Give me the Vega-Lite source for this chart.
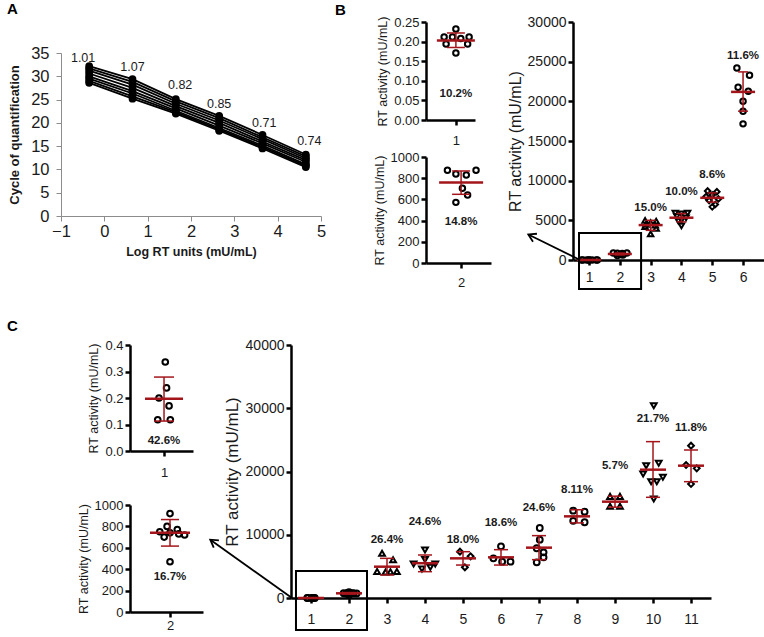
{
  "$schema": "https://vega.github.io/schema/vega-lite/v6.json",
  "padding": {"left": 7, "top": 2, "right": 0, "bottom": 0},
  "config": {
    "font": "Liberation Sans",
    "view": {"stroke": null},
    "axis": {"grid": false, "domainColor": "black", "domainWidth": 2.5, "tickColor": "black", "tickWidth": 2.5, "tickSize": 5, "labelColor": "#1a1a1a", "labelFontSize": 13, "labelPadding": 2, "titleFontWeight": "normal", "titleColor": "#1a1a1a", "titleFontSize": 12.5, "labelFlush": false, "labelOverlap": false, "tickCount": 50},
    "title": {"fontSize": 15, "fontWeight": "bold", "anchor": "start", "color": "black"}
  },
  "datasets": {
    "std": [
      {"rep":1,"logRT":-0.35,"cq":32.2},{"rep":1,"logRT":0.65,"cq":29.4},{"rep":1,"logRT":1.65,"cq":25.1},{"rep":1,"logRT":2.65,"cq":21.5},{"rep":1,"logRT":3.65,"cq":17.4},{"rep":1,"logRT":4.65,"cq":13.2},
      {"rep":2,"logRT":-0.35,"cq":31.7},{"rep":2,"logRT":0.65,"cq":28.8},{"rep":2,"logRT":1.65,"cq":24.6},{"rep":2,"logRT":2.65,"cq":21.0},{"rep":2,"logRT":3.65,"cq":16.9},{"rep":2,"logRT":4.65,"cq":12.8},
      {"rep":3,"logRT":-0.35,"cq":31.2},{"rep":3,"logRT":0.65,"cq":28.2},{"rep":3,"logRT":1.65,"cq":24.1},{"rep":3,"logRT":2.65,"cq":20.5},{"rep":3,"logRT":3.65,"cq":16.5},{"rep":3,"logRT":4.65,"cq":12.4},
      {"rep":4,"logRT":-0.35,"cq":30.6},{"rep":4,"logRT":0.65,"cq":27.5},{"rep":4,"logRT":1.65,"cq":23.6},{"rep":4,"logRT":2.65,"cq":20.0},{"rep":4,"logRT":3.65,"cq":16.0},{"rep":4,"logRT":4.65,"cq":12.0},
      {"rep":5,"logRT":-0.35,"cq":30.0},{"rep":5,"logRT":0.65,"cq":26.8},{"rep":5,"logRT":1.65,"cq":23.1},{"rep":5,"logRT":2.65,"cq":19.4},{"rep":5,"logRT":3.65,"cq":15.6},{"rep":5,"logRT":4.65,"cq":11.6},
      {"rep":6,"logRT":-0.35,"cq":29.5},{"rep":6,"logRT":0.65,"cq":26.3},{"rep":6,"logRT":1.65,"cq":22.6},{"rep":6,"logRT":2.65,"cq":18.9},{"rep":6,"logRT":3.65,"cq":15.1},{"rep":6,"logRT":4.65,"cq":11.1},
      {"rep":7,"logRT":-0.35,"cq":29.0},{"rep":7,"logRT":0.65,"cq":25.7},{"rep":7,"logRT":1.65,"cq":22.3},{"rep":7,"logRT":2.65,"cq":18.6},{"rep":7,"logRT":3.65,"cq":14.8},{"rep":7,"logRT":4.65,"cq":10.8},
      {"rep":8,"logRT":-0.35,"cq":28.6},{"rep":8,"logRT":0.65,"cq":25.2},{"rep":8,"logRT":1.65,"cq":22.0},{"rep":8,"logRT":2.65,"cq":18.3},{"rep":8,"logRT":3.65,"cq":14.5},{"rep":8,"logRT":4.65,"cq":10.5}
    ],
    "stdLabel": [
      {"logRT":-0.49,"cq":34.0,"eff":"1.01"},{"logRT":0.65,"cq":32.1,"eff":"1.07"},{"logRT":1.75,"cq":28.1,"eff":"0.82"},
      {"logRT":2.65,"cq":24.0,"eff":"0.85"},{"logRT":3.69,"cq":20.0,"eff":"0.71"},{"logRT":4.73,"cq":16.0,"eff":"0.74"}
    ],
    "bPts": [
      {"group":1,"pos":1.0,"rt":0.232},{"group":1,"pos":0.76,"rt":0.212},{"group":1,"pos":0.93,"rt":0.212},{"group":1,"pos":1.10,"rt":0.208},{"group":1,"pos":1.27,"rt":0.212},{"group":1,"pos":0.80,"rt":0.194},{"group":1,"pos":1.24,"rt":0.194},{"group":1,"pos":1.0,"rt":0.171},
      {"group":2,"pos":1.79,"rt":875},{"group":2,"pos":1.92,"rt":840},{"group":2,"pos":2.08,"rt":830},{"group":2,"pos":2.23,"rt":875},{"group":2,"pos":2.02,"rt":705},{"group":2,"pos":2.10,"rt":641},{"group":2,"pos":1.92,"rt":572},
      {"group":3,"pos":2.82,"rt":5000},{"group":3,"pos":3.18,"rt":4900},{"group":3,"pos":3.0,"rt":4700},{"group":3,"pos":2.85,"rt":4500},{"group":3,"pos":3.15,"rt":4400},{"group":3,"pos":2.82,"rt":4200},{"group":3,"pos":3.18,"rt":4000},{"group":3,"pos":3.0,"rt":3300},
      {"group":4,"pos":3.8,"rt":5900},{"group":4,"pos":4.2,"rt":5900},{"group":4,"pos":4.0,"rt":5800},{"group":4,"pos":3.85,"rt":5500},{"group":4,"pos":4.15,"rt":5300},{"group":4,"pos":4.0,"rt":5000},{"group":4,"pos":3.9,"rt":4900},{"group":4,"pos":4.0,"rt":4300},
      {"group":5,"pos":4.85,"rt":8700},{"group":5,"pos":5.15,"rt":8600},{"group":5,"pos":5.0,"rt":8200},{"group":5,"pos":4.8,"rt":8000},{"group":5,"pos":5.2,"rt":7700},{"group":5,"pos":4.9,"rt":7500},{"group":5,"pos":5.1,"rt":7000},{"group":5,"pos":5.0,"rt":6700},
      {"group":6,"pos":5.8,"rt":24210},{"group":6,"pos":6.21,"rt":23290},{"group":6,"pos":5.84,"rt":21780},{"group":6,"pos":6.17,"rt":21280},{"group":6,"pos":6.0,"rt":20020},{"group":6,"pos":6.0,"rt":18760},{"group":6,"pos":6.0,"rt":17160}
    ],
    "bStats": [
      {"group":1,"mean":0.203,"lo":0.185,"hi":0.222},
      {"group":2,"mean":760,"lo":648,"hi":868},
      {"group":3,"mean":4400,"lo":3740,"hi":5000},
      {"group":4,"mean":5330,"lo":4800,"hi":5860},
      {"group":5,"mean":7840,"lo":7290,"hi":8460},
      {"group":6,"mean":21190,"lo":18760,"hi":23710}
    ],
    "bLabels": [
      {"panel":"s","group":1,"rt":0.066,"text":"10.2%"},
      {"panel":"s","group":2,"rt":387,"text":"14.8%"},
      {"panel":"b","group":3,"rt":6510,"text":"15.0%"},
      {"panel":"b","group":4,"rt":8600,"text":"10.0%"},
      {"panel":"b","group":5,"rt":10660,"text":"8.6%"},
      {"panel":"b","group":6,"rt":25680,"text":"11.6%"}
    ],
    "bNote": [{"x1":0.675,"x2":2.69,"y1":3400,"y2":-3650,"ax1":0.71,"ay1":0,"ax2":-0.97,"ay2":3220}],
    "cPts": [
      {"group":1,"pos":1.02,"rt":0.336},{"group":1,"pos":1.04,"rt":0.238},{"group":1,"pos":0.92,"rt":0.20},{"group":1,"pos":1.08,"rt":0.17},{"group":1,"pos":0.9,"rt":0.118},{"group":1,"pos":1.1,"rt":0.118},
      {"group":2,"pos":2.0,"rt":920},{"group":2,"pos":1.96,"rt":800},{"group":2,"pos":2.1,"rt":770},{"group":2,"pos":1.86,"rt":750},{"group":2,"pos":2.0,"rt":740},{"group":2,"pos":2.12,"rt":730},{"group":2,"pos":2.2,"rt":720},{"group":2,"pos":1.92,"rt":700},{"group":2,"pos":2.0,"rt":470},
      {"group":3,"pos":2.87,"rt":7060},{"group":3,"pos":3.16,"rt":6060},{"group":3,"pos":2.74,"rt":4200},{"group":3,"pos":2.96,"rt":4100},{"group":3,"pos":3.09,"rt":4150},{"group":3,"pos":3.26,"rt":4200},
      {"group":4,"pos":4.0,"rt":7600},{"group":4,"pos":4.0,"rt":6100},{"group":4,"pos":3.7,"rt":5380},{"group":4,"pos":3.92,"rt":4590},{"group":4,"pos":4.14,"rt":4850},{"group":4,"pos":4.27,"rt":5380},
      {"group":5,"pos":4.92,"rt":7320},{"group":5,"pos":5.2,"rt":6590},{"group":5,"pos":5.05,"rt":4850},
      {"group":6,"pos":6.0,"rt":8170},{"group":6,"pos":5.8,"rt":6270},{"group":6,"pos":6.03,"rt":5740},{"group":6,"pos":6.25,"rt":5740},
      {"group":7,"pos":7.02,"rt":11070},{"group":7,"pos":7.02,"rt":9220},{"group":7,"pos":6.94,"rt":7860},{"group":7,"pos":7.12,"rt":7220},{"group":7,"pos":7.12,"rt":6430},{"group":7,"pos":6.94,"rt":5640},
      {"group":8,"pos":7.9,"rt":13810},{"group":8,"pos":8.2,"rt":13650},{"group":8,"pos":7.9,"rt":12200},{"group":8,"pos":8.2,"rt":11970},
      {"group":9,"pos":8.87,"rt":16070},{"group":9,"pos":9.13,"rt":16070},{"group":9,"pos":8.87,"rt":14500},{"group":9,"pos":9.13,"rt":14500},
      {"group":10,"pos":10.02,"rt":30400},{"group":10,"pos":10.15,"rt":21300},{"group":10,"pos":9.82,"rt":20920},{"group":10,"pos":9.74,"rt":19600},{"group":10,"pos":10.26,"rt":19080},{"group":10,"pos":9.95,"rt":18390},{"group":10,"pos":10.1,"rt":18390},{"group":10,"pos":10.02,"rt":15650},
      {"group":11,"pos":11.0,"rt":24080},{"group":11,"pos":10.87,"rt":21030},{"group":11,"pos":11.15,"rt":20500},{"group":11,"pos":11.0,"rt":18020}
    ],
    "cStats": [
      {"group":1,"mean":0.197,"lo":0.113,"hi":0.279},
      {"group":2,"mean":740,"lo":616,"hi":864},
      {"group":3,"mean":4950,"lo":3640,"hi":6270},
      {"group":4,"mean":5500,"lo":4160,"hi":6800},
      {"group":5,"mean":6270,"lo":5210,"hi":7320},
      {"group":6,"mean":6430,"lo":5210,"hi":7640},
      {"group":7,"mean":7960,"lo":6060,"hi":9860},
      {"group":8,"mean":12910,"lo":11870,"hi":13950},
      {"group":9,"mean":15230,"lo":14360,"hi":16100},
      {"group":10,"mean":20290,"lo":15920,"hi":24720},
      {"group":11,"mean":20920,"lo":18390,"hi":23400}
    ],
    "cLabels": [
      {"panel":"s","group":1,"rt":0.036,"text":"42.6%"},
      {"panel":"s","group":2,"rt":330,"text":"16.7%"},
      {"panel":"b","group":3,"rt":9220,"text":"26.4%"},
      {"panel":"b","group":4,"rt":12070,"text":"24.6%"},
      {"panel":"b","group":5,"rt":9220,"text":"18.0%"},
      {"panel":"b","group":6,"rt":11860,"text":"18.6%"},
      {"panel":"b","group":7,"rt":14230,"text":"24.6%"},
      {"panel":"b","group":8,"rt":17070,"text":"8.11%"},
      {"panel":"b","group":9,"rt":20920,"text":"5.7%"},
      {"panel":"b","group":10,"rt":28300,"text":"21.7%"},
      {"panel":"b","group":11,"rt":26880,"text":"11.8%"}
    ],
    "cNote": [{"x1":0.605,"x2":2.474,"y1":4270,"y2":-5060,"ax1":0.50,"ay1":0,"ax2":-1.65,"ay2":9220}]
  },
  "spacing": 29,
  "vconcat": [
    {
      "spacing": 9,
      "hconcat": [
        {
          "spacing": 10,
          "bounds": "flush",
          "vconcat": [
            {"width": 260, "height": 21, "title": {"text": "A", "dx": -54, "offset": 5}, "data": {"values": []}, "mark": "point", "encoding": {}},
            {
              "width": 260, "height": 163,
              "layer": [
                {"data": {"name": "std"}, "mark": {"type": "line", "color": "black", "strokeWidth": 1.8},
                 "encoding": {
                   "x": {"field": "logRT", "type": "quantitative", "scale": {"domain": [-1, 5], "nice": false, "zero": false},
                         "axis": {"title": "Log RT units (mU/mL)", "values": [-1,0,1,2,3,4,5], "format": "d", "tickCount": 50, "labelOverlap": false, "domainColor": "#8c8c8c", "domainWidth": 1, "tickColor": "#8c8c8c", "tickWidth": 1, "tickSize": 5, "labelFontSize": 16.5, "labelPadding": 2, "titleFontSize": 12.5, "titleFontWeight": "bold", "titlePadding": 6}},
                   "y": {"field": "cq", "type": "quantitative", "scale": {"domain": [0, 35], "nice": false},
                         "axis": {"title": "Cycle of quantification", "values": [0,5,10,15,20,25,30,35], "format": "d", "tickCount": 50, "labelOverlap": false, "domainColor": "#8c8c8c", "domainWidth": 1, "tickColor": "#8c8c8c", "tickWidth": 1, "tickSize": 5, "labelFontSize": 16.5, "labelPadding": 7, "titleFontSize": 13, "titleFontWeight": "bold", "titlePadding": 9}},
                   "detail": {"field": "rep", "type": "nominal"}
                 }},
                {"data": {"name": "std"}, "mark": {"type": "point", "filled": true, "color": "black", "size": 60, "opacity": 1},
                 "encoding": {"x": {"field": "logRT", "type": "quantitative"}, "y": {"field": "cq", "type": "quantitative"}}},
                {"data": {"name": "stdLabel"}, "mark": {"type": "text", "fontSize": 12.5, "color": "#1a1a1a"},
                 "encoding": {"x": {"field": "logRT", "type": "quantitative"}, "y": {"field": "cq", "type": "quantitative"}, "text": {"field": "eff"}}}
              ]
            }
          ]
        },
        {
          "spacing": 16,
          "hconcat": [
            {
              "title": {"text": "B", "dx": -38, "offset": -2},
              "spacing": 37,
              "bounds": "flush",
              "vconcat": [
                {
                  "width": 49, "height": 98,
                  "layer": [
                    {"data": {"name": "bPts"}, "transform": [{"filter": "datum.group == 1"}],
                     "mark": {"type": "point", "shape": "circle", "filled": false, "color": "black", "strokeWidth": 2, "size": 30, "opacity": 1},
                     "encoding": {
                       "x": {"field": "pos", "type": "quantitative", "scale": {"domain": [0.39, 1.39], "nice": false, "zero": false}, "axis": {"title": null, "values": [1], "tickCount": 50, "format": "d", "labelOverlap": false, "labelPadding": 9}},
                       "y": {"field": "rt", "type": "quantitative", "scale": {"domain": [0, 0.25], "nice": false}, "axis": {"title": "RT activity (mU/mL)", "values": [0,0.05,0.1,0.15,0.2,0.25], "tickCount": 50, "format": ".2f", "labelOverlap": false}}
                     }},
                    {"data": {"name": "bStats"}, "transform": [{"filter": "datum.group == 1"}], "mark": {"type": "rule", "color": "#a3151b", "strokeWidth": 1.5},
                     "encoding": {"x": {"field": "group", "type": "quantitative"}, "y": {"field": "lo", "type": "quantitative"}, "y2": {"field": "hi"}}},
                    {"data": {"name": "bStats"}, "transform": [{"filter": "datum.group == 1"}], "mark": {"type": "tick", "orient": "horizontal", "color": "#a3151b", "size": 18, "thickness": 1.5, "opacity": 1},
                     "encoding": {"x": {"field": "group", "type": "quantitative"}, "y": {"field": "lo", "type": "quantitative"}}},
                    {"data": {"name": "bStats"}, "transform": [{"filter": "datum.group == 1"}], "mark": {"type": "tick", "orient": "horizontal", "color": "#a3151b", "size": 18, "thickness": 1.5, "opacity": 1},
                     "encoding": {"x": {"field": "group", "type": "quantitative"}, "y": {"field": "hi", "type": "quantitative"}}},
                    {"data": {"name": "bStats"}, "transform": [{"filter": "datum.group == 1"}], "mark": {"type": "tick", "orient": "horizontal", "color": "#a3151b", "size": 38, "thickness": 2.5, "opacity": 1},
                     "encoding": {"x": {"field": "group", "type": "quantitative"}, "y": {"field": "mean", "type": "quantitative"}}},
                    {"data": {"name": "bLabels"}, "transform": [{"filter": "datum.panel == 's' && datum.group == 1"}], "mark": {"type": "text", "fontSize": 11.5, "fontWeight": "bold", "color": "#1a1a1a"},
                     "encoding": {"x": {"field": "group", "type": "quantitative"}, "y": {"field": "rt", "type": "quantitative"}, "text": {"field": "text"}}}
                  ]
                },
                {
                  "width": 65, "height": 106,
                  "layer": [
                    {"data": {"name": "bPts"}, "transform": [{"filter": "datum.group == 2"}],
                     "mark": {"type": "point", "shape": "circle", "filled": false, "color": "black", "strokeWidth": 2, "size": 30, "opacity": 1},
                     "encoding": {
                       "x": {"field": "pos", "type": "quantitative", "scale": {"domain": [1.46, 2.46], "nice": false, "zero": false}, "axis": {"title": null, "values": [2], "tickCount": 50, "format": "d", "labelOverlap": false, "labelPadding": 8}},
                       "y": {"field": "rt", "type": "quantitative", "scale": {"domain": [0, 1000], "nice": false}, "axis": {"title": "RT activity (mU/mL)", "values": [0,200,400,600,800,1000], "tickCount": 50, "format": "d", "labelOverlap": false}}
                     }},
                    {"data": {"name": "bStats"}, "transform": [{"filter": "datum.group == 2"}], "mark": {"type": "rule", "color": "#a3151b", "strokeWidth": 1.5},
                     "encoding": {"x": {"field": "group", "type": "quantitative"}, "y": {"field": "lo", "type": "quantitative"}, "y2": {"field": "hi"}}},
                    {"data": {"name": "bStats"}, "transform": [{"filter": "datum.group == 2"}], "mark": {"type": "tick", "orient": "horizontal", "color": "#a3151b", "size": 18, "thickness": 1.5, "opacity": 1},
                     "encoding": {"x": {"field": "group", "type": "quantitative"}, "y": {"field": "lo", "type": "quantitative"}}},
                    {"data": {"name": "bStats"}, "transform": [{"filter": "datum.group == 2"}], "mark": {"type": "tick", "orient": "horizontal", "color": "#a3151b", "size": 18, "thickness": 1.5, "opacity": 1},
                     "encoding": {"x": {"field": "group", "type": "quantitative"}, "y": {"field": "hi", "type": "quantitative"}}},
                    {"data": {"name": "bStats"}, "transform": [{"filter": "datum.group == 2"}], "mark": {"type": "tick", "orient": "horizontal", "color": "#a3151b", "size": 44, "thickness": 2.5, "opacity": 1},
                     "encoding": {"x": {"field": "group", "type": "quantitative"}, "y": {"field": "mean", "type": "quantitative"}}},
                    {"data": {"name": "bLabels"}, "transform": [{"filter": "datum.panel == 's' && datum.group == 2"}], "mark": {"type": "text", "fontSize": 11.5, "fontWeight": "bold", "color": "#1a1a1a"},
                     "encoding": {"x": {"field": "group", "type": "quantitative"}, "y": {"field": "rt", "type": "quantitative"}, "text": {"field": "text"}}}
                  ]
                }
              ]
            },
            {
              "width": 191, "height": 238,
              "layer": [
                {"data": {"name": "bPts"},
                 "mark": {"type": "point", "filled": false, "color": "black", "strokeWidth": 2, "size": 30, "opacity": 1},
                 "encoding": {
                   "x": {"field": "pos", "type": "quantitative", "scale": {"domain": [0.48, 6.68], "nice": false, "zero": false}, "axis": {"title": null, "values": [1,2,3,4,5,6], "tickCount": 50, "format": "d", "labelOverlap": false, "labelFontSize": 14, "labelPadding": 5}},
                   "y": {"field": "rt", "type": "quantitative", "scale": {"domain": [0, 30000], "nice": false}, "axis": {"title": "RT activity (mU/mL)", "values": [0,5000,10000,15000,20000,25000,30000], "tickCount": 50, "format": "d", "labelOverlap": false, "labelFontSize": 14, "titleFontSize": 16}},
                   "shape": {"field": "group", "type": "nominal", "scale": {"domain": [1,2,3,4,5,6], "range": ["circle","circle","triangle-up","triangle-down","diamond","circle"]}, "legend": null}
                 }},
                {"data": {"name": "bStats"}, "mark": {"type": "rule", "color": "#a3151b", "strokeWidth": 1.5},
                 "encoding": {"x": {"field": "group", "type": "quantitative"}, "y": {"field": "lo", "type": "quantitative"}, "y2": {"field": "hi"}}},
                {"data": {"name": "bStats"}, "mark": {"type": "tick", "orient": "horizontal", "color": "#a3151b", "size": 10, "thickness": 1.5, "opacity": 1},
                 "encoding": {"x": {"field": "group", "type": "quantitative"}, "y": {"field": "lo", "type": "quantitative"}}},
                {"data": {"name": "bStats"}, "mark": {"type": "tick", "orient": "horizontal", "color": "#a3151b", "size": 10, "thickness": 1.5, "opacity": 1},
                 "encoding": {"x": {"field": "group", "type": "quantitative"}, "y": {"field": "hi", "type": "quantitative"}}},
                {"data": {"name": "bStats"}, "mark": {"type": "tick", "orient": "horizontal", "color": "#a3151b", "size": 24, "thickness": 2.5, "opacity": 1},
                 "encoding": {"x": {"field": "group", "type": "quantitative"}, "y": {"field": "mean", "type": "quantitative"}}},
                {"data": {"name": "bLabels"}, "transform": [{"filter": "datum.panel == 'b'"}], "mark": {"type": "text", "fontSize": 11.5, "fontWeight": "bold", "color": "#1a1a1a"},
                 "encoding": {"x": {"field": "group", "type": "quantitative"}, "y": {"field": "rt", "type": "quantitative"}, "text": {"field": "text"}}},
                {"data": {"name": "bNote"}, "mark": {"type": "rect", "filled": false, "color": "black", "strokeWidth": 2},
                 "encoding": {"x": {"field": "x1", "type": "quantitative"}, "x2": {"field": "x2"}, "y": {"field": "y1", "type": "quantitative"}, "y2": {"field": "y2"}}},
                {"data": {"name": "bNote"}, "mark": {"type": "rule", "color": "black", "strokeWidth": 1.8},
                 "encoding": {"x": {"field": "ax1", "type": "quantitative"}, "y": {"field": "ay1", "type": "quantitative"}, "x2": {"field": "ax2"}, "y2": {"field": "ay2"}}},
                {"data": {"name": "bNote"}, "mark": {"type": "point", "shape": "M-0.6,1L0,0L0.6,1", "angle": -63.6, "size": 220, "filled": false, "color": "black", "strokeWidth": 1.8, "opacity": 1},
                 "encoding": {"x": {"field": "ax2", "type": "quantitative"}, "y": {"field": "ay2", "type": "quantitative"}}}
              ]
            }
          ]
        }
      ]
    },
    {
      "spacing": 6,
      "hconcat": [
        {"width": 10, "height": 10, "title": {"text": "C", "dx": -54, "offset": 11}, "data": {"values": []}, "mark": "point", "encoding": {}},
        {
          "spacing": 3,
          "hconcat": [
            {
              "spacing": 54,
              "bounds": "flush",
              "vconcat": [
                {
                  "width": 63, "height": 106,
                  "layer": [
                    {"data": {"name": "cPts"}, "transform": [{"filter": "datum.group == 1"}],
                     "mark": {"type": "point", "shape": "circle", "filled": false, "color": "black", "strokeWidth": 2, "size": 32, "opacity": 1},
                     "encoding": {
                       "x": {"field": "pos", "type": "quantitative", "scale": {"domain": [0.46, 1.46], "nice": false, "zero": false}, "axis": {"title": null, "values": [1], "tickCount": 50, "format": "d", "labelOverlap": false, "labelPadding": 10}},
                       "y": {"field": "rt", "type": "quantitative", "scale": {"domain": [0, 0.4], "nice": false}, "axis": {"title": "RT activity (mU/mL)", "values": [0,0.1,0.2,0.3,0.4], "tickCount": 50, "format": ".1f", "labelOverlap": false}}
                     }},
                    {"data": {"name": "cStats"}, "transform": [{"filter": "datum.group == 1"}], "mark": {"type": "rule", "color": "#a3151b", "strokeWidth": 1.5},
                     "encoding": {"x": {"field": "group", "type": "quantitative"}, "y": {"field": "lo", "type": "quantitative"}, "y2": {"field": "hi"}}},
                    {"data": {"name": "cStats"}, "transform": [{"filter": "datum.group == 1"}], "mark": {"type": "tick", "orient": "horizontal", "color": "#a3151b", "size": 20, "thickness": 1.5, "opacity": 1},
                     "encoding": {"x": {"field": "group", "type": "quantitative"}, "y": {"field": "lo", "type": "quantitative"}}},
                    {"data": {"name": "cStats"}, "transform": [{"filter": "datum.group == 1"}], "mark": {"type": "tick", "orient": "horizontal", "color": "#a3151b", "size": 20, "thickness": 1.5, "opacity": 1},
                     "encoding": {"x": {"field": "group", "type": "quantitative"}, "y": {"field": "hi", "type": "quantitative"}}},
                    {"data": {"name": "cStats"}, "transform": [{"filter": "datum.group == 1"}], "mark": {"type": "tick", "orient": "horizontal", "color": "#a3151b", "size": 38, "thickness": 2.5, "opacity": 1},
                     "encoding": {"x": {"field": "group", "type": "quantitative"}, "y": {"field": "mean", "type": "quantitative"}}},
                    {"data": {"name": "cLabels"}, "transform": [{"filter": "datum.panel == 's' && datum.group == 1"}], "mark": {"type": "text", "fontSize": 11.5, "fontWeight": "bold", "color": "#1a1a1a"},
                     "encoding": {"x": {"field": "group", "type": "quantitative"}, "y": {"field": "rt", "type": "quantitative"}, "text": {"field": "text"}}}
                  ]
                },
                {
                  "width": 73, "height": 107,
                  "layer": [
                    {"data": {"name": "cPts"}, "transform": [{"filter": "datum.group == 2"}],
                     "mark": {"type": "point", "shape": "circle", "filled": false, "color": "black", "strokeWidth": 2, "size": 32, "opacity": 1},
                     "encoding": {
                       "x": {"field": "pos", "type": "quantitative", "scale": {"domain": [1.452, 2.452], "nice": false, "zero": false}, "axis": {"title": null, "values": [2], "tickCount": 50, "format": "d", "labelOverlap": false, "labelPadding": 2}},
                       "y": {"field": "rt", "type": "quantitative", "scale": {"domain": [0, 1000], "nice": false}, "axis": {"title": "RT activity (mU/mL)", "values": [0,200,400,600,800,1000], "tickCount": 50, "format": "d", "labelOverlap": false}}
                     }},
                    {"data": {"name": "cStats"}, "transform": [{"filter": "datum.group == 2"}], "mark": {"type": "rule", "color": "#a3151b", "strokeWidth": 1.5},
                     "encoding": {"x": {"field": "group", "type": "quantitative"}, "y": {"field": "lo", "type": "quantitative"}, "y2": {"field": "hi"}}},
                    {"data": {"name": "cStats"}, "transform": [{"filter": "datum.group == 2"}], "mark": {"type": "tick", "orient": "horizontal", "color": "#a3151b", "size": 18, "thickness": 1.5, "opacity": 1},
                     "encoding": {"x": {"field": "group", "type": "quantitative"}, "y": {"field": "lo", "type": "quantitative"}}},
                    {"data": {"name": "cStats"}, "transform": [{"filter": "datum.group == 2"}], "mark": {"type": "tick", "orient": "horizontal", "color": "#a3151b", "size": 18, "thickness": 1.5, "opacity": 1},
                     "encoding": {"x": {"field": "group", "type": "quantitative"}, "y": {"field": "hi", "type": "quantitative"}}},
                    {"data": {"name": "cStats"}, "transform": [{"filter": "datum.group == 2"}], "mark": {"type": "tick", "orient": "horizontal", "color": "#a3151b", "size": 40, "thickness": 2.5, "opacity": 1},
                     "encoding": {"x": {"field": "group", "type": "quantitative"}, "y": {"field": "mean", "type": "quantitative"}}},
                    {"data": {"name": "cLabels"}, "transform": [{"filter": "datum.panel == 's' && datum.group == 2"}], "mark": {"type": "text", "fontSize": 11.5, "fontWeight": "bold", "color": "#1a1a1a"},
                     "encoding": {"x": {"field": "group", "type": "quantitative"}, "y": {"field": "rt", "type": "quantitative"}, "text": {"field": "text"}}}
                  ]
                }
              ]
            },
            {
              "width": 420, "height": 253,
              "layer": [
                {"data": {"name": "cPts"},
                 "mark": {"type": "point", "filled": false, "color": "black", "strokeWidth": 2, "size": 34, "opacity": 1},
                 "encoding": {
                   "x": {"field": "pos", "type": "quantitative", "scale": {"domain": [0.474, 11.526], "nice": false, "zero": false}, "axis": {"title": null, "values": [1,2,3,4,5,6,7,8,9,10,11], "tickCount": 50, "format": "d", "labelOverlap": false, "labelFontSize": 14, "labelPadding": 9}},
                   "y": {"field": "rt", "type": "quantitative", "scale": {"domain": [0, 40000], "nice": false}, "axis": {"title": "RT activity (mU/mL)", "values": [0,10000,20000,30000,40000], "tickCount": 50, "format": "d", "labelOverlap": false, "labelFontSize": 14, "titleFontSize": 17}},
                   "shape": {"field": "group", "type": "nominal", "scale": {"domain": [1,2,3,4,5,6,7,8,9,10,11], "range": ["circle","circle","triangle-up","triangle-down","diamond","circle","circle","square","triangle-up","triangle-down","diamond"]}, "legend": null}
                 }},
                {"data": {"name": "cStats"}, "mark": {"type": "rule", "color": "#a3151b", "strokeWidth": 1.5},
                 "encoding": {"x": {"field": "group", "type": "quantitative"}, "y": {"field": "lo", "type": "quantitative"}, "y2": {"field": "hi"}}},
                {"data": {"name": "cStats"}, "mark": {"type": "tick", "orient": "horizontal", "color": "#a3151b", "size": 14, "thickness": 1.5, "opacity": 1},
                 "encoding": {"x": {"field": "group", "type": "quantitative"}, "y": {"field": "lo", "type": "quantitative"}}},
                {"data": {"name": "cStats"}, "mark": {"type": "tick", "orient": "horizontal", "color": "#a3151b", "size": 14, "thickness": 1.5, "opacity": 1},
                 "encoding": {"x": {"field": "group", "type": "quantitative"}, "y": {"field": "hi", "type": "quantitative"}}},
                {"data": {"name": "cStats"}, "mark": {"type": "tick", "orient": "horizontal", "color": "#a3151b", "size": 26, "thickness": 2.5, "opacity": 1},
                 "encoding": {"x": {"field": "group", "type": "quantitative"}, "y": {"field": "mean", "type": "quantitative"}}},
                {"data": {"name": "cLabels"}, "transform": [{"filter": "datum.panel == 'b'"}], "mark": {"type": "text", "fontSize": 11.5, "fontWeight": "bold", "color": "#1a1a1a"},
                 "encoding": {"x": {"field": "group", "type": "quantitative"}, "y": {"field": "rt", "type": "quantitative"}, "text": {"field": "text"}}},
                {"data": {"name": "cNote"}, "mark": {"type": "rect", "filled": false, "color": "black", "strokeWidth": 2},
                 "encoding": {"x": {"field": "x1", "type": "quantitative"}, "x2": {"field": "x2"}, "y": {"field": "y1", "type": "quantitative"}, "y2": {"field": "y2"}}},
                {"data": {"name": "cNote"}, "mark": {"type": "rule", "color": "black", "strokeWidth": 1.8},
                 "encoding": {"x": {"field": "ax1", "type": "quantitative"}, "y": {"field": "ay1", "type": "quantitative"}, "x2": {"field": "ax2"}, "y2": {"field": "ay2"}}},
                {"data": {"name": "cNote"}, "mark": {"type": "point", "shape": "M-0.6,1L0,0L0.6,1", "angle": -54.5, "size": 220, "filled": false, "color": "black", "strokeWidth": 1.8, "opacity": 1},
                 "encoding": {"x": {"field": "ax2", "type": "quantitative"}, "y": {"field": "ay2", "type": "quantitative"}}}
              ]
            }
          ]
        }
      ]
    }
  ]
}
